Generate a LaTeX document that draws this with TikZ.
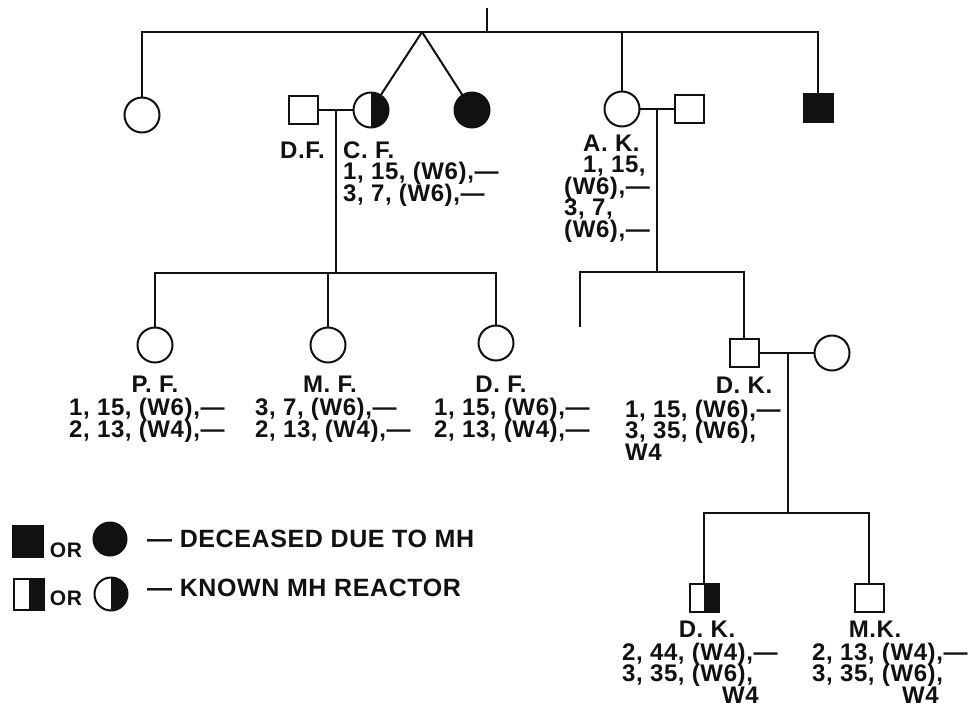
\documentclass[tikz,border=0pt]{standalone}
\usepackage{fontspec}
\usepackage{tikz}
\usetikzlibrary{positioning,calc}
\newfontfamily\pedfont{Liberation Sans}[LetterSpace=2.5]
\definecolor{pdInk}{HTML}{111111}
\newcommand\pdlabel{\pedfont\bfseries\fontsize{24}{21.5}\selectfont\lineskiplimit=-20pt}
\newcommand\pdlegend{\pedfont\bfseries\fontsize{25}{26}\selectfont}
\newcommand\pdor{\pedfont\bfseries\fontsize{21}{22}\selectfont}
\tikzset{
  pdnode/.style={draw=pdInk, line width=2pt, inner sep=0pt, outer sep=0pt},
  male/.style={pdnode, rectangle, minimum width=29pt, minimum height=28pt},
  female/.style={pdnode, circle, minimum size=35pt},
  deceased/.style={fill=pdInk},
  reactor/.style={path picture={
    \fill[pdInk] (path picture bounding box.north) rectangle (path picture bounding box.south east);}},
  pdline/.style={draw=pdInk, line width=2pt},
  pname/.style={font=\pdlabel, text=pdInk, inner sep=0pt, anchor=base},
  pdata/.style={font=\pdlabel, text=pdInk, inner sep=0pt, anchor=base west, align=left},
  legsym/.style={minimum width=30pt, minimum height=31pt},
  legcirc/.style={minimum size=33pt},
  legor/.style={font=\pdor, text=pdInk, inner sep=0pt, anchor=base},
  legtext/.style={font=\pdlegend, text=pdInk, inner sep=0pt, anchor=base west}
}
\begin{document}
\begin{tikzpicture}[x=1pt, y=-1pt]
  \useasboundingbox (0,0) rectangle (979,713);

  % first generation
  \coordinate (top) at (487,8);
  \coordinate (topj) at (487,32);
  \coordinate (twin) at (422,32);
  \node[female] (g1) at (142,115) {};
  \node[male] (dfa) at (303,110) {};
  \node[female, reactor] (cf) at (371,110) {};
  \node[female, deceased] (g3) at (472,110) {};
  \node[female] (ak) at (622,109) {};
  \node[male] (akh) at (689,109) {};
  \node[male, deceased] (g5) at (818,108) {};
  \draw[pdline] (top) -- (topj);
  \draw[pdline] (g1.north) |- (topj) -| (g5.north);
  \draw[pdline] (twin) -- (cf);
  \draw[pdline] (twin) -- (g3);
  \draw[pdline] (ak.north) -- (ak.north |- topj);
  \draw[pdline] (dfa) -- (cf);
  \draw[pdline] (ak) -- (akh);

  \node[pdata] (dftxt) at (280,158) {D.F.};
  \node[pdata] (cftxt) at (343,201) {C. F.\\1, 15, (W6),—\\3, 7, (W6),—};
  \node[pdata] (aktxt) at (564,237) {\hspace*{19pt}A. K.\\\hspace*{19pt}1, 15,\\(W6),—\\3, 7,\\(W6),—};

  % second generation
  \coordinate (m1) at (336,110);
  \coordinate (s1) at (336,273);
  \coordinate (m2) at (657,109);
  \coordinate (s2) at (657,272);
  \coordinate (stub) at (580,327);
  \node[female] (pf) at (155,345) {};
  \node[female] (mf) at (328,345) {};
  \node[female] (dfb) at (496,343) {};
  \node[male] (dk) at (744,353) {};
  \node[female] (dkw) at (832,353) {};
  \draw[pdline] (m1) -- (s1);
  \draw[pdline] (pf.north) |- (s1) -| (dfb.north);
  \draw[pdline] (mf.north) -- (mf.north |- s1);
  \draw[pdline] (m2) -- (s2);
  \draw[pdline] (stub) |- (s2) -| (dk.north);
  \draw[pdline] (dk) -- (dkw);

  \node[pname] (pfname) at (155,392) {P. F.};
  \node[pdata] (pftxt) at (69,437) {1, 15, (W6),—\\2, 13, (W4),—};
  \node[pname] (mfname) at (330,392) {M. F.};
  \node[pdata] (mftxt) at (255,437) {3, 7, (W6),—\\2, 13, (W4),—};
  \node[pname] (dfbname) at (501,392) {D. F.};
  \node[pdata] (dfbtxt) at (434,437) {1, 15, (W6),—\\2, 13, (W4),—};
  \node[pname] (dkname) at (744,393) {D. K.};
  \node[pdata] (dktxt) at (625,460) {1, 15, (W6),—\\3, 35, (W6),\\W4};

  % third generation
  \coordinate (m3) at (788,353);
  \coordinate (s3) at (788,513);
  \node[male, reactor] (dkb) at (704,598) {};
  \node[male] (mk) at (869,598) {};
  \draw[pdline] (m3) -- (s3);
  \draw[pdline] (dkb.north) |- (s3) -| (mk.north);

  \node[pname] (dkbname) at (707,637) {D. K.};
  \node[pdata] (dkbtxt) at (622,703) {2, 44, (W4),—\\3, 35, (W6),\\\hspace*{100pt}W4};
  \node[pname] (mkname) at (875,637) {M.K.};
  \node[pdata] (mktxt) at (812,703) {2, 13, (W4),—\\3, 35, (W6),\\\hspace*{90pt}W4};

  % legend
  \node[male, deceased, legsym] (lsq1) at (28,541) {};
  \node[legor] (lor1) at (66,557) {OR};
  \node[female, deceased, legcirc] (lci1) at (110,539) {};
  \node[legtext] (ltx1) at (147,547) {— DECEASED DUE TO MH};
  \node[male, reactor, legsym] (lsq2) at (29,594) {};
  \node[legor] (lor2) at (66,605) {OR};
  \node[female, reactor, legcirc] (lci2) at (111,594) {};
  \node[legtext] (ltx2) at (147,596) {— KNOWN MH REACTOR};
\end{tikzpicture}
\end{document}
